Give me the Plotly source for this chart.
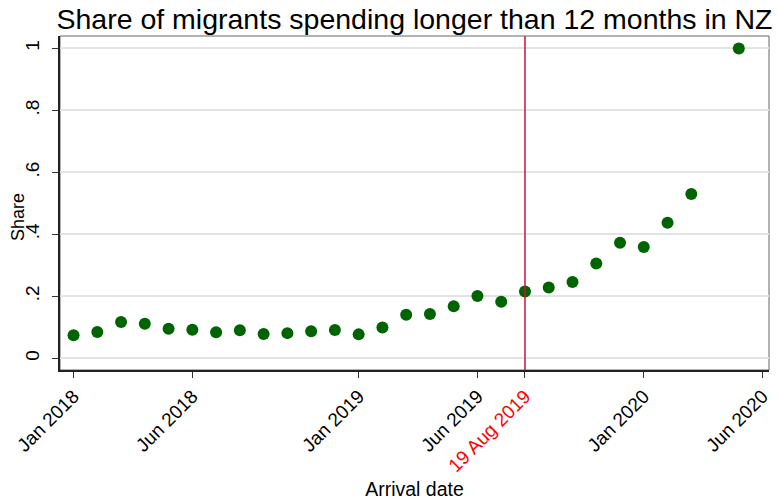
import plotly.graph_objects as go

# ---- data ----
arrival_month = ["2018-01", "2018-02", "2018-03", "2018-04", "2018-05", "2018-06",
                 "2018-07", "2018-08", "2018-09", "2018-10", "2018-11", "2018-12",
                 "2019-01", "2019-02", "2019-03", "2019-04", "2019-05", "2019-06",
                 "2019-07", "2019-08", "2019-09", "2019-10", "2019-11", "2019-12",
                 "2020-01", "2020-02", "2020-03", "2020-05"]
share = [0.074, 0.085, 0.117, 0.111, 0.095, 0.092, 0.084, 0.090, 0.078, 0.081,
         0.087, 0.091, 0.077, 0.099, 0.140, 0.143, 0.168, 0.201, 0.182, 0.215,
         0.228, 0.246, 0.306, 0.373, 0.359, 0.437, 0.530, 1.0]

tick_months = ["2018-01", "2018-06", "2019-01", "2019-06", "2019-08", "2020-01", "2020-06"]
tick_labels = ["Jan 2018", "Jun 2018", "Jan 2019", "Jun 2019",
               "<span style='color:#ff0000'>19 Aug 2019</span>", "Jan 2020", "Jun 2020"]
policy_month = "2019-08"

y_tickvals = [0, 0.2, 0.4, 0.6, 0.8, 1.0]
y_ticklabels = ["0", ".2", ".4", ".6", ".8", "1"]


def month_index(s):
    y, m = s.split("-")
    return (int(y) - 2018) * 12 + int(m) - 1


x = [month_index(m) for m in arrival_month]
tickx = [month_index(m) for m in tick_months]
policy_x = month_index(policy_month)

FONT = "Liberation Sans, Arial, Helvetica, sans-serif"

fig = go.Figure()
fig.add_trace(go.Scatter(
    x=x, y=share, mode="markers",
    marker=dict(color="#006400", size=12, line=dict(width=0)),
    showlegend=False, cliponaxis=False,
))

fig.add_shape(type="line", x0=policy_x, x1=policy_x, y0=0, y1=1,
              xref="x", yref="paper", line=dict(color="#d0103a", width=1.5),
              layer="above")

fig.update_layout(
    width=778, height=500,
    margin=dict(l=60, r=9, t=36, b=130),
    paper_bgcolor="white", plot_bgcolor="white",
    font=dict(family=FONT, color="black", size=16),
    title=dict(text="Share of migrants spending longer than 12 months in NZ",
               xref="paper", x=0.5, xanchor="center",
               yref="container", y=0.962, yanchor="middle",
               font=dict(size=28.5, family=FONT, color="black")),
    xaxis=dict(
        automargin=False,
        range=[-0.57, 29.27],
        tickmode="array", tickvals=tickx, ticktext=tick_labels,
        tickangle=-45, ticks="outside", ticklen=6, tickcolor="#333",
        showgrid=False, zeroline=False,
        showline=True, linecolor="#222", linewidth=1.5, mirror=False,
        title=dict(text="Arrival date", font=dict(size=19.5), standoff=22),
        tickfont=dict(size=19),
    ),
    yaxis=dict(
        automargin=False,
        range=[-0.038, 1.04],
        tickmode="array", tickvals=y_tickvals, ticktext=y_ticklabels,
        tickangle=-90, ticks="outside", ticklen=6, tickcolor="#333",
        ticklabelstandoff=6,
        showgrid=True, gridcolor="#e3e3e3", gridwidth=1.5, zeroline=False,
        showline=True, linecolor="#222", linewidth=1.5, mirror=False,
        tickfont=dict(size=19),
    ),
    annotations=[dict(
        text="Share", textangle=-90, showarrow=False,
        xref="paper", yref="paper", x=-0.0592, y=0.458,
        xanchor="center", yanchor="middle",
        font=dict(size=18, family=FONT, color="black"),
    )],
)

# plot region frame (top / right)
fig.add_shape(type="rect", xref="paper", yref="paper", x0=0, x1=1, y0=0, y1=1,
              line=dict(color="#666", width=1), layer="below")

fig.write_html("out.html", config={"displayModeBar": False},
               post_script="document.body.style.margin='0';")
